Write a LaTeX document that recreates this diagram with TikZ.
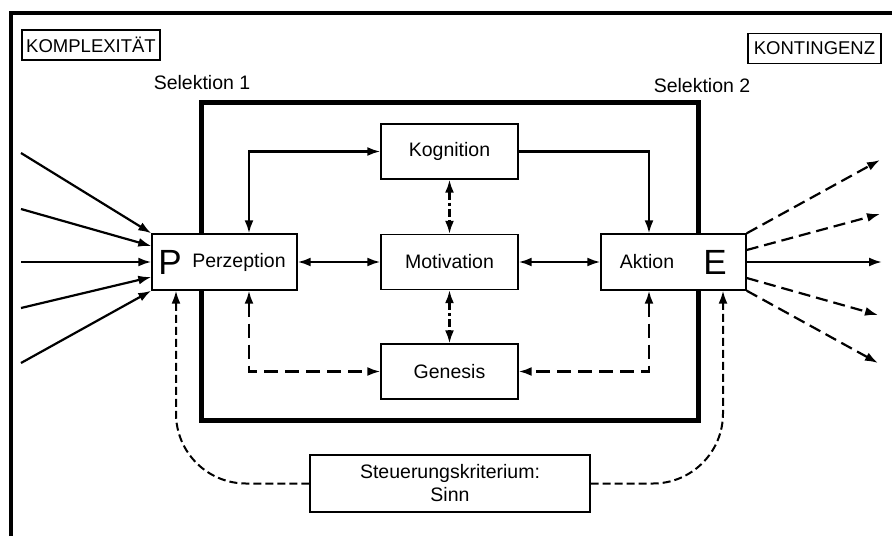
\documentclass[tikz,border=0pt]{standalone}
\usepackage{fontspec}
\setsansfont{Liberation Sans}
\usetikzlibrary{positioning, calc, arrows.meta}

\begin{document}
\begin{tikzpicture}[x=1pt, y=-1pt, >={Latex[length=13pt,width=9pt]},
    font=\sffamily\fontsize{19.5}{23}\selectfont,
    block/.style={draw, line width=1.4pt, fill=white, inner sep=0pt, minimum height=56pt},
    tag/.style={draw, line width=1.4pt, inner sep=0pt, minimum height=30pt,
        font=\sffamily\fontsize{18.5}{20}\selectfont},
    big/.style={font=\sffamily\fontsize{35}{35}\selectfont},
    flow/.style={line width=2.2pt},
    longdash/.style={line width=2.2pt, dash pattern=on 14pt off 7pt},
    dashdot/.style={line width=2.2pt, dash pattern=on 8pt off 3pt on 3pt off 3pt},
    outdash/.style={line width=2.2pt, dash pattern=on 12pt off 6pt},
    loopdash/.style={line width=2pt, dash pattern=on 8pt off 4pt}]
    \useasboundingbox (0,0) rectangle (892,536);

    % --- FRAME & CORNER LABELS ---
    \draw[line width=3.5pt] (11,536) -- (11,13) -- (892,13);
    \node[tag, minimum width=138pt] (komp) at (91,45) {KOMPLEXITÄT};
    \node[tag, minimum width=133pt] (kont) at (814.5,48.5) {KONTINGENZ};
    \node (sel1) at (202,83) {Selektion 1};
    \node (sel2) at (702,86) {Selektion 2};

    % System boundary
    \draw[line width=5pt] (201,102) rectangle (698,420);

    % --- BLOCKS ---
    \node[block, minimum width=145pt] (perz) at (224.5,262) {};
    \node[big] (pl) at (170,262) {P};
    \node (perzl) at (239,262) {Perzeption};
    \node[block, minimum width=137pt, minimum height=55pt] (kog) at (449.5,151.5) {Kognition};
    \node[block, minimum width=137pt, minimum height=55pt] (mot) at (449.5,262) {Motivation};
    \node[block, minimum width=137pt, minimum height=55pt] (gen) at (449.5,371.5) {Genesis};
    \node[block, minimum width=145pt] (akt) at (673.5,262) {};
    \node (aktl) at (647,262) {Aktion};
    \node[big] (el) at (715,262) {E};
    \node[block, minimum width=280pt, minimum height=57pt, align=center] (steu) at (450,483.5)
        {Steuerungskriterium:\\Sinn};

    % --- INPUTS ---
    \coordinate (in1) at (21,153);
    \coordinate (in2) at (21,209);
    \coordinate (in3) at (21,262);
    \coordinate (in4) at (21,308);
    \coordinate (in5) at (21,363);
    \draw[flow, ->] (in1) -- (perz.north west);
    \draw[flow, ->] (in2) -- ($(perz.west)+(0,-16)$);
    \draw[flow, ->] (in3) -- (perz.west);
    \draw[flow, ->] (in4) -- ($(perz.west)+(0,15)$);
    \draw[flow, ->] (in5) -- (perz.south west);

    % --- OUTPUTS ---
    \coordinate (out1) at (880,160);
    \coordinate (out2) at (880,214);
    \coordinate (out3) at (882,262);
    \coordinate (out4) at (878,315);
    \coordinate (out5) at (878,363);
    \draw[outdash, ->] (akt.north east) -- (out1);
    \draw[outdash, ->] ($(akt.east)+(0,-12)$) -- (out2);
    \draw[flow, ->] (akt.east) -- (out3);
    \draw[outdash, ->] ($(akt.east)+(0,16)$) -- (out4);
    \draw[outdash, ->] (akt.south east) -- (out5);

    % --- INTERNAL LINKS ---
    \draw[flow, <->] ($(perz.north)+(24.5,0)$) |- (kog.west);
    \draw[flow, ->] (kog.east) -| ($(akt.north)+(-24.5,0)$);
    \draw[flow, <->] (perz.east) -- (mot.west);
    \draw[flow, <->] (mot.east) -- (akt.west);
    \draw[dashdot, <->] (kog.south) -- (mot.north);
    \draw[dashdot, <->] (mot.south) -- (gen.north);
    \draw[longdash, <->] ($(perz.south)+(24.5,0)$) |- (gen.west);
    \draw[longdash, <->] ($(akt.south)+(-24.5,0)$) |- (gen.east);

    % Feedback from the criterion
    \draw[loopdash, ->, rounded corners=70pt] (steu.west) -| ($(perz.south)+(-48.5,0)$);
    \draw[loopdash, ->, rounded corners=70pt] (steu.east) -| ($(akt.south)+(49.5,0)$);
\end{tikzpicture}
\end{document}
